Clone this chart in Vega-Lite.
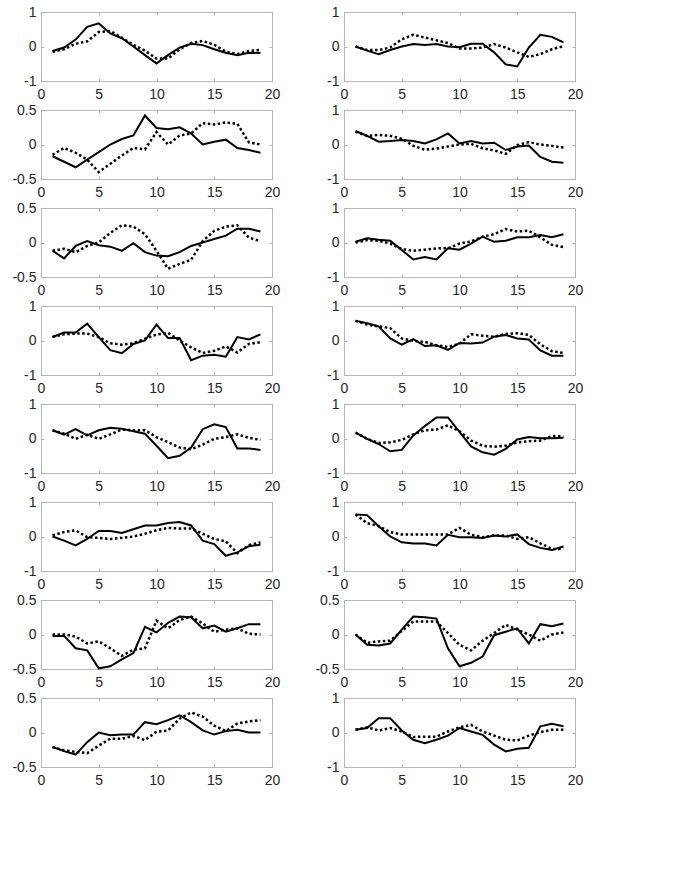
{
"$schema": "https://vega.github.io/schema/vega-lite/v6.json",
"padding": {"left": 11, "top": 4, "right": 5, "bottom": 5},
"background": "white",
"config": {
  "axis": {"grid": false, "domain": false, "tickColor": "#b0b0b0", "tickSize": -3, "tickWidth": 1, "labelFont": "Liberation Sans", "labelFontSize": 14, "labelColor": "#262626", "labelFlush": false, "labelOverlap": false},
  "axisBottom": {"labelPadding": 9},
  "axisLeft": {"labelPadding": 8},
  "axisTop": {"labels": false},
  "axisRight": {"labels": false},
  "view": {"stroke": "#b8b8b8", "strokeWidth": 1}
},
"datasets": {"d": [
{"p":1,"x":1,"s":-0.13,"d":-0.15},{"p":1,"x":2,"s":-0.03,"d":-0.08},{"p":1,"x":3,"s":0.2,"d":0.08},{"p":1,"x":4,"s":0.57,"d":0.15},{"p":1,"x":5,"s":0.67,"d":0.42},{"p":1,"x":6,"s":0.38,"d":0.45},{"p":1,"x":7,"s":0.24,"d":0.25},{"p":1,"x":8,"s":0.0,"d":0.05},{"p":1,"x":9,"s":-0.25,"d":-0.12},{"p":1,"x":10,"s":-0.49,"d":-0.35},{"p":1,"x":11,"s":-0.25,"d":-0.35},{"p":1,"x":12,"s":-0.03,"d":-0.08},{"p":1,"x":13,"s":0.08,"d":0.1},{"p":1,"x":14,"s":0.04,"d":0.16},{"p":1,"x":15,"s":-0.08,"d":0.05},{"p":1,"x":16,"s":-0.18,"d":-0.15},{"p":1,"x":17,"s":-0.25,"d":-0.22},{"p":1,"x":18,"s":-0.18,"d":-0.13},{"p":1,"x":19,"s":-0.19,"d":-0.1},
{"p":2,"x":1,"s":0.0,"d":0.0},{"p":2,"x":2,"s":-0.12,"d":-0.1},{"p":2,"x":3,"s":-0.22,"d":-0.1},{"p":2,"x":4,"s":-0.1,"d":-0.03},{"p":2,"x":5,"s":0.0,"d":0.21},{"p":2,"x":6,"s":0.07,"d":0.34},{"p":2,"x":7,"s":0.04,"d":0.26},{"p":2,"x":8,"s":0.07,"d":0.18},{"p":2,"x":9,"s":0.0,"d":0.1},{"p":2,"x":10,"s":-0.02,"d":-0.06},{"p":2,"x":11,"s":0.08,"d":-0.06},{"p":2,"x":12,"s":0.08,"d":-0.03},{"p":2,"x":13,"s":-0.17,"d":0.07},{"p":2,"x":14,"s":-0.52,"d":-0.03},{"p":2,"x":15,"s":-0.58,"d":-0.17},{"p":2,"x":16,"s":-0.03,"d":-0.3},{"p":2,"x":17,"s":0.34,"d":-0.22},{"p":2,"x":18,"s":0.28,"d":-0.08},{"p":2,"x":19,"s":0.12,"d":0.01},
{"p":3,"x":1,"s":-0.17,"d":-0.15},{"p":3,"x":2,"s":-0.25,"d":-0.05},{"p":3,"x":3,"s":-0.33,"d":-0.12},{"p":3,"x":4,"s":-0.22,"d":-0.22},{"p":3,"x":5,"s":-0.11,"d":-0.4},{"p":3,"x":6,"s":0.0,"d":-0.28},{"p":3,"x":7,"s":0.08,"d":-0.16},{"p":3,"x":8,"s":0.13,"d":-0.05},{"p":3,"x":9,"s":0.42,"d":-0.07},{"p":3,"x":10,"s":0.24,"d":0.18},{"p":3,"x":11,"s":0.22,"d":0.0},{"p":3,"x":12,"s":0.25,"d":0.13},{"p":3,"x":13,"s":0.16,"d":0.16},{"p":3,"x":14,"s":0.0,"d":0.31},{"p":3,"x":15,"s":0.04,"d":0.29},{"p":3,"x":16,"s":0.07,"d":0.32},{"p":3,"x":17,"s":-0.05,"d":0.3},{"p":3,"x":18,"s":-0.08,"d":0.03},{"p":3,"x":19,"s":-0.12,"d":0.0},
{"p":4,"x":1,"s":0.39,"d":0.37},{"p":4,"x":2,"s":0.25,"d":0.25},{"p":4,"x":3,"s":0.08,"d":0.28},{"p":4,"x":4,"s":0.1,"d":0.25},{"p":4,"x":5,"s":0.13,"d":0.17},{"p":4,"x":6,"s":0.1,"d":-0.04},{"p":4,"x":7,"s":0.03,"d":-0.15},{"p":4,"x":8,"s":0.15,"d":-0.12},{"p":4,"x":9,"s":0.32,"d":-0.06},{"p":4,"x":10,"s":0.03,"d":0.0},{"p":4,"x":11,"s":0.1,"d":0.02},{"p":4,"x":12,"s":0.03,"d":-0.11},{"p":4,"x":13,"s":0.05,"d":-0.17},{"p":4,"x":14,"s":-0.16,"d":-0.27},{"p":4,"x":15,"s":-0.06,"d":-0.02},{"p":4,"x":16,"s":-0.03,"d":0.07},{"p":4,"x":17,"s":-0.36,"d":0.0},{"p":4,"x":18,"s":-0.5,"d":-0.04},{"p":4,"x":19,"s":-0.53,"d":-0.09},
{"p":5,"x":1,"s":-0.12,"d":-0.12},{"p":5,"x":2,"s":-0.23,"d":-0.09},{"p":5,"x":3,"s":-0.05,"d":-0.14},{"p":5,"x":4,"s":0.02,"d":-0.05},{"p":5,"x":5,"s":-0.04,"d":0.0},{"p":5,"x":6,"s":-0.06,"d":0.14},{"p":5,"x":7,"s":-0.12,"d":0.25},{"p":5,"x":8,"s":-0.01,"d":0.23},{"p":5,"x":9,"s":-0.14,"d":0.12},{"p":5,"x":10,"s":-0.19,"d":-0.12},{"p":5,"x":11,"s":-0.2,"d":-0.38},{"p":5,"x":12,"s":-0.14,"d":-0.31},{"p":5,"x":13,"s":-0.05,"d":-0.25},{"p":5,"x":14,"s":0.0,"d":0.02},{"p":5,"x":15,"s":0.05,"d":0.17},{"p":5,"x":16,"s":0.1,"d":0.23},{"p":5,"x":17,"s":0.2,"d":0.25},{"p":5,"x":18,"s":0.2,"d":0.07},{"p":5,"x":19,"s":0.16,"d":0.02},
{"p":6,"x":1,"s":0.02,"d":0.0},{"p":6,"x":2,"s":0.12,"d":0.07},{"p":6,"x":3,"s":0.08,"d":0.05},{"p":6,"x":4,"s":0.05,"d":-0.03},{"p":6,"x":5,"s":-0.22,"d":-0.19},{"p":6,"x":6,"s":-0.49,"d":-0.24},{"p":6,"x":7,"s":-0.42,"d":-0.21},{"p":6,"x":8,"s":-0.49,"d":-0.17},{"p":6,"x":9,"s":-0.17,"d":-0.17},{"p":6,"x":10,"s":-0.21,"d":-0.03},{"p":6,"x":11,"s":-0.03,"d":0.03},{"p":6,"x":12,"s":0.17,"d":0.17},{"p":6,"x":13,"s":0.02,"d":0.24},{"p":6,"x":14,"s":0.05,"d":0.39},{"p":6,"x":15,"s":0.15,"d":0.32},{"p":6,"x":16,"s":0.15,"d":0.34},{"p":6,"x":17,"s":0.22,"d":0.15},{"p":6,"x":18,"s":0.15,"d":-0.07},{"p":6,"x":19,"s":0.24,"d":-0.13},
{"p":7,"x":1,"s":0.1,"d":0.1},{"p":7,"x":2,"s":0.23,"d":0.18},{"p":7,"x":3,"s":0.23,"d":0.2},{"p":7,"x":4,"s":0.49,"d":0.2},{"p":7,"x":5,"s":0.1,"d":0.1},{"p":7,"x":6,"s":-0.28,"d":-0.08},{"p":7,"x":7,"s":-0.37,"d":-0.12},{"p":7,"x":8,"s":-0.1,"d":-0.08},{"p":7,"x":9,"s":0.0,"d":0.05},{"p":7,"x":10,"s":0.46,"d":0.17},{"p":7,"x":11,"s":0.07,"d":0.22},{"p":7,"x":12,"s":0.07,"d":0.0},{"p":7,"x":13,"s":-0.57,"d":-0.2},{"p":7,"x":14,"s":-0.44,"d":-0.36},{"p":7,"x":15,"s":-0.41,"d":-0.3},{"p":7,"x":16,"s":-0.47,"d":-0.17},{"p":7,"x":17,"s":0.1,"d":-0.35},{"p":7,"x":18,"s":0.03,"d":-0.1},{"p":7,"x":19,"s":0.18,"d":-0.05},
{"p":8,"x":1,"s":0.57,"d":0.57},{"p":8,"x":2,"s":0.5,"d":0.46},{"p":8,"x":3,"s":0.41,"d":0.41},{"p":8,"x":4,"s":0.06,"d":0.36},{"p":8,"x":5,"s":-0.12,"d":0.06},{"p":8,"x":6,"s":0.04,"d":-0.01},{"p":8,"x":7,"s":-0.16,"d":-0.04},{"p":8,"x":8,"s":-0.14,"d":-0.14},{"p":8,"x":9,"s":-0.27,"d":-0.19},{"p":8,"x":10,"s":-0.07,"d":-0.09},{"p":8,"x":11,"s":-0.09,"d":0.18},{"p":8,"x":12,"s":-0.06,"d":0.14},{"p":8,"x":13,"s":0.11,"d":0.11},{"p":8,"x":14,"s":0.16,"d":0.19},{"p":8,"x":15,"s":0.06,"d":0.21},{"p":8,"x":16,"s":0.03,"d":0.16},{"p":8,"x":17,"s":-0.29,"d":-0.11},{"p":8,"x":18,"s":-0.44,"d":-0.31},{"p":8,"x":19,"s":-0.44,"d":-0.36},
{"p":9,"x":1,"s":0.24,"d":0.24},{"p":9,"x":2,"s":0.11,"d":0.14},{"p":9,"x":3,"s":0.27,"d":-0.01},{"p":9,"x":4,"s":0.09,"d":0.11},{"p":9,"x":5,"s":0.24,"d":-0.01},{"p":9,"x":6,"s":0.31,"d":0.12},{"p":9,"x":7,"s":0.28,"d":0.26},{"p":9,"x":8,"s":0.21,"d":0.24},{"p":9,"x":9,"s":0.14,"d":0.24},{"p":9,"x":10,"s":-0.21,"d":0.04},{"p":9,"x":11,"s":-0.57,"d":-0.11},{"p":9,"x":12,"s":-0.5,"d":-0.26},{"p":9,"x":13,"s":-0.26,"d":-0.31},{"p":9,"x":14,"s":0.27,"d":-0.18},{"p":9,"x":15,"s":0.41,"d":-0.01},{"p":9,"x":16,"s":0.33,"d":0.04},{"p":9,"x":17,"s":-0.29,"d":0.12},{"p":9,"x":18,"s":-0.29,"d":0.02},{"p":9,"x":19,"s":-0.33,"d":-0.04},
{"p":10,"x":1,"s":0.17,"d":0.17},{"p":10,"x":2,"s":-0.01,"d":-0.01},{"p":10,"x":3,"s":-0.16,"d":-0.13},{"p":10,"x":4,"s":-0.37,"d":-0.11},{"p":10,"x":5,"s":-0.33,"d":-0.04},{"p":10,"x":6,"s":0.09,"d":0.12},{"p":10,"x":7,"s":0.36,"d":0.24},{"p":10,"x":8,"s":0.61,"d":0.26},{"p":10,"x":9,"s":0.61,"d":0.38},{"p":10,"x":10,"s":0.19,"d":0.21},{"p":10,"x":11,"s":-0.23,"d":-0.06},{"p":10,"x":12,"s":-0.4,"d":-0.21},{"p":10,"x":13,"s":-0.47,"d":-0.24},{"p":10,"x":14,"s":-0.3,"d":-0.21},{"p":10,"x":15,"s":-0.03,"d":-0.11},{"p":10,"x":16,"s":0.04,"d":-0.08},{"p":10,"x":17,"s":0.01,"d":-0.06},{"p":10,"x":18,"s":0.01,"d":0.07},{"p":10,"x":19,"s":0.02,"d":0.06},
{"p":11,"x":1,"s":0.0,"d":0.03},{"p":11,"x":2,"s":-0.12,"d":0.13},{"p":11,"x":3,"s":-0.26,"d":0.18},{"p":11,"x":4,"s":-0.07,"d":-0.02},{"p":11,"x":5,"s":0.16,"d":-0.04},{"p":11,"x":6,"s":0.16,"d":-0.07},{"p":11,"x":7,"s":0.1,"d":-0.04},{"p":11,"x":8,"s":0.21,"d":0.0},{"p":11,"x":9,"s":0.32,"d":0.08},{"p":11,"x":10,"s":0.32,"d":0.18},{"p":11,"x":11,"s":0.39,"d":0.25},{"p":11,"x":12,"s":0.42,"d":0.23},{"p":11,"x":13,"s":0.32,"d":0.23},{"p":11,"x":14,"s":-0.12,"d":0.08},{"p":11,"x":15,"s":-0.22,"d":-0.07},{"p":11,"x":16,"s":-0.56,"d":-0.14},{"p":11,"x":17,"s":-0.46,"d":-0.48},{"p":11,"x":18,"s":-0.28,"d":-0.25},{"p":11,"x":19,"s":-0.24,"d":-0.17},
{"p":12,"x":1,"s":0.64,"d":0.64},{"p":12,"x":2,"s":0.62,"d":0.39},{"p":12,"x":3,"s":0.3,"d":0.3},{"p":12,"x":4,"s":0.0,"d":0.13},{"p":12,"x":5,"s":-0.17,"d":0.06},{"p":12,"x":6,"s":-0.2,"d":0.06},{"p":12,"x":7,"s":-0.2,"d":0.06},{"p":12,"x":8,"s":-0.26,"d":0.06},{"p":12,"x":9,"s":0.05,"d":0.06},{"p":12,"x":10,"s":-0.02,"d":0.25},{"p":12,"x":11,"s":-0.02,"d":0.05},{"p":12,"x":12,"s":-0.04,"d":-0.02},{"p":12,"x":13,"s":0.03,"d":0.03},{"p":12,"x":14,"s":0.0,"d":0.03},{"p":12,"x":15,"s":0.06,"d":-0.07},{"p":12,"x":16,"s":-0.22,"d":-0.02},{"p":12,"x":17,"s":-0.33,"d":-0.2},{"p":12,"x":18,"s":-0.39,"d":-0.36},{"p":12,"x":19,"s":-0.29,"d":-0.36},
{"p":13,"x":1,"s":-0.02,"d":0.0},{"p":13,"x":2,"s":-0.02,"d":0.0},{"p":13,"x":3,"s":-0.2,"d":-0.03},{"p":13,"x":4,"s":-0.23,"d":-0.13},{"p":13,"x":5,"s":-0.49,"d":-0.1},{"p":13,"x":6,"s":-0.46,"d":-0.2},{"p":13,"x":7,"s":-0.36,"d":-0.31},{"p":13,"x":8,"s":-0.27,"d":-0.22},{"p":13,"x":9,"s":0.11,"d":-0.2},{"p":13,"x":10,"s":0.03,"d":0.2},{"p":13,"x":11,"s":0.17,"d":0.09},{"p":13,"x":12,"s":0.26,"d":0.21},{"p":13,"x":13,"s":0.25,"d":0.26},{"p":13,"x":14,"s":0.09,"d":0.16},{"p":13,"x":15,"s":0.13,"d":0.04},{"p":13,"x":16,"s":0.04,"d":0.07},{"p":13,"x":17,"s":0.09,"d":0.09},{"p":13,"x":18,"s":0.15,"d":0.01},{"p":13,"x":19,"s":0.15,"d":0.0},
{"p":14,"x":1,"s":0.0,"d":0.0},{"p":14,"x":2,"s":-0.15,"d":-0.12},{"p":14,"x":3,"s":-0.16,"d":-0.1},{"p":14,"x":4,"s":-0.13,"d":-0.09},{"p":14,"x":5,"s":0.07,"d":0.05},{"p":14,"x":6,"s":0.26,"d":0.19},{"p":14,"x":7,"s":0.25,"d":0.19},{"p":14,"x":8,"s":0.23,"d":0.19},{"p":14,"x":9,"s":-0.2,"d":0.02},{"p":14,"x":10,"s":-0.46,"d":-0.15},{"p":14,"x":11,"s":-0.41,"d":-0.23},{"p":14,"x":12,"s":-0.32,"d":-0.09},{"p":14,"x":13,"s":-0.01,"d":0.02},{"p":14,"x":14,"s":0.04,"d":0.14},{"p":14,"x":15,"s":0.09,"d":0.07},{"p":14,"x":16,"s":-0.13,"d":0.0},{"p":14,"x":17,"s":0.15,"d":-0.09},{"p":14,"x":18,"s":0.12,"d":0.0},{"p":14,"x":19,"s":0.16,"d":0.03},
{"p":15,"x":1,"s":-0.21,"d":-0.21},{"p":15,"x":2,"s":-0.27,"d":-0.26},{"p":15,"x":3,"s":-0.32,"d":-0.28},{"p":15,"x":4,"s":-0.14,"d":-0.3},{"p":15,"x":5,"s":0.0,"d":-0.19},{"p":15,"x":6,"s":-0.04,"d":-0.09},{"p":15,"x":7,"s":-0.03,"d":-0.09},{"p":15,"x":8,"s":-0.03,"d":-0.05},{"p":15,"x":9,"s":0.15,"d":-0.11},{"p":15,"x":10,"s":0.12,"d":0.01},{"p":15,"x":11,"s":0.18,"d":0.03},{"p":15,"x":12,"s":0.25,"d":0.2},{"p":15,"x":13,"s":0.15,"d":0.29},{"p":15,"x":14,"s":0.03,"d":0.23},{"p":15,"x":15,"s":-0.03,"d":0.1},{"p":15,"x":16,"s":0.02,"d":0.02},{"p":15,"x":17,"s":0.04,"d":0.13},{"p":15,"x":18,"s":0.0,"d":0.16},{"p":15,"x":19,"s":0.0,"d":0.18},
{"p":16,"x":1,"s":0.08,"d":0.08},{"p":16,"x":2,"s":0.13,"d":0.15},{"p":16,"x":3,"s":0.41,"d":0.06},{"p":16,"x":4,"s":0.41,"d":0.13},{"p":16,"x":5,"s":0.06,"d":0.03},{"p":16,"x":6,"s":-0.21,"d":-0.13},{"p":16,"x":7,"s":-0.31,"d":-0.12},{"p":16,"x":8,"s":-0.21,"d":-0.12},{"p":16,"x":9,"s":-0.09,"d":0.03},{"p":16,"x":10,"s":0.13,"d":0.15},{"p":16,"x":11,"s":0.03,"d":0.22},{"p":16,"x":12,"s":-0.07,"d":0.03},{"p":16,"x":13,"s":-0.35,"d":-0.09},{"p":16,"x":14,"s":-0.55,"d":-0.21},{"p":16,"x":15,"s":-0.47,"d":-0.23},{"p":16,"x":16,"s":-0.44,"d":-0.09},{"p":16,"x":17,"s":0.18,"d":0.01},{"p":16,"x":18,"s":0.25,"d":0.08},{"p":16,"x":19,"s":0.18,"d":0.08}
]},
"data": {"name": "d"},
"columns": 2,
"bounds": "flush",
"spacing": {"row": 29, "column": 72},
"concat": [
{"width":231,"height":69,"transform":[{"filter":"datum.p==1"}],"layer":[
 {"mark":{"type":"line","color":"#000","strokeWidth":2},"encoding":{"x":{"field":"x","type":"quantitative","title":null,"scale":{"domain":[0,20]},"axis":{"values":[0,5,10,15,20]}},"y":{"field":"s","type":"quantitative","title":null,"scale":{"domain":[-1,1]},"axis":{"values":[-1,0,1],"labelExpr":"''+datum.value"}}}},
 {"mark":{"type":"line","color":"#000","strokeWidth":2.5,"strokeDash":[2.5,2.5]},"encoding":{"x":{"field":"x","type":"quantitative","title":null,"scale":{"domain":[0,20]},"axis":{"orient":"top","values":[0,5,10,15,20]}},"y":{"field":"d","type":"quantitative","title":null,"scale":{"domain":[-1,1]},"axis":{"orient":"right","values":[-1,0,1]}}}}
],"resolve":{"axis":{"x":"independent","y":"independent"}}},
{"width":231,"height":69,"transform":[{"filter":"datum.p==2"}],"layer":[
 {"mark":{"type":"line","color":"#000","strokeWidth":2},"encoding":{"x":{"field":"x","type":"quantitative","title":null,"scale":{"domain":[0,20]},"axis":{"values":[0,5,10,15,20]}},"y":{"field":"s","type":"quantitative","title":null,"scale":{"domain":[-1,1]},"axis":{"values":[-1,0,1],"labelExpr":"''+datum.value"}}}},
 {"mark":{"type":"line","color":"#000","strokeWidth":2.5,"strokeDash":[2.5,2.5]},"encoding":{"x":{"field":"x","type":"quantitative","title":null,"scale":{"domain":[0,20]},"axis":{"orient":"top","values":[0,5,10,15,20]}},"y":{"field":"d","type":"quantitative","title":null,"scale":{"domain":[-1,1]},"axis":{"orient":"right","values":[-1,0,1]}}}}
],"resolve":{"axis":{"x":"independent","y":"independent"}}},
{"width":231,"height":69,"transform":[{"filter":"datum.p==3"}],"layer":[
 {"mark":{"type":"line","color":"#000","strokeWidth":2},"encoding":{"x":{"field":"x","type":"quantitative","title":null,"scale":{"domain":[0,20]},"axis":{"values":[0,5,10,15,20]}},"y":{"field":"s","type":"quantitative","title":null,"scale":{"domain":[-0.5,0.5]},"axis":{"values":[-0.5,0,0.5],"labelExpr":"''+datum.value"}}}},
 {"mark":{"type":"line","color":"#000","strokeWidth":2.5,"strokeDash":[2.5,2.5]},"encoding":{"x":{"field":"x","type":"quantitative","title":null,"scale":{"domain":[0,20]},"axis":{"orient":"top","values":[0,5,10,15,20]}},"y":{"field":"d","type":"quantitative","title":null,"scale":{"domain":[-0.5,0.5]},"axis":{"orient":"right","values":[-0.5,0,0.5]}}}}
],"resolve":{"axis":{"x":"independent","y":"independent"}}},
{"width":231,"height":69,"transform":[{"filter":"datum.p==4"}],"layer":[
 {"mark":{"type":"line","color":"#000","strokeWidth":2},"encoding":{"x":{"field":"x","type":"quantitative","title":null,"scale":{"domain":[0,20]},"axis":{"values":[0,5,10,15,20]}},"y":{"field":"s","type":"quantitative","title":null,"scale":{"domain":[-1,1]},"axis":{"values":[-1,0,1],"labelExpr":"''+datum.value"}}}},
 {"mark":{"type":"line","color":"#000","strokeWidth":2.5,"strokeDash":[2.5,2.5]},"encoding":{"x":{"field":"x","type":"quantitative","title":null,"scale":{"domain":[0,20]},"axis":{"orient":"top","values":[0,5,10,15,20]}},"y":{"field":"d","type":"quantitative","title":null,"scale":{"domain":[-1,1]},"axis":{"orient":"right","values":[-1,0,1]}}}}
],"resolve":{"axis":{"x":"independent","y":"independent"}}},
{"width":231,"height":69,"transform":[{"filter":"datum.p==5"}],"layer":[
 {"mark":{"type":"line","color":"#000","strokeWidth":2},"encoding":{"x":{"field":"x","type":"quantitative","title":null,"scale":{"domain":[0,20]},"axis":{"values":[0,5,10,15,20]}},"y":{"field":"s","type":"quantitative","title":null,"scale":{"domain":[-0.5,0.5]},"axis":{"values":[-0.5,0,0.5],"labelExpr":"''+datum.value"}}}},
 {"mark":{"type":"line","color":"#000","strokeWidth":2.5,"strokeDash":[2.5,2.5]},"encoding":{"x":{"field":"x","type":"quantitative","title":null,"scale":{"domain":[0,20]},"axis":{"orient":"top","values":[0,5,10,15,20]}},"y":{"field":"d","type":"quantitative","title":null,"scale":{"domain":[-0.5,0.5]},"axis":{"orient":"right","values":[-0.5,0,0.5]}}}}
],"resolve":{"axis":{"x":"independent","y":"independent"}}},
{"width":231,"height":69,"transform":[{"filter":"datum.p==6"}],"layer":[
 {"mark":{"type":"line","color":"#000","strokeWidth":2},"encoding":{"x":{"field":"x","type":"quantitative","title":null,"scale":{"domain":[0,20]},"axis":{"values":[0,5,10,15,20]}},"y":{"field":"s","type":"quantitative","title":null,"scale":{"domain":[-1,1]},"axis":{"values":[-1,0,1],"labelExpr":"''+datum.value"}}}},
 {"mark":{"type":"line","color":"#000","strokeWidth":2.5,"strokeDash":[2.5,2.5]},"encoding":{"x":{"field":"x","type":"quantitative","title":null,"scale":{"domain":[0,20]},"axis":{"orient":"top","values":[0,5,10,15,20]}},"y":{"field":"d","type":"quantitative","title":null,"scale":{"domain":[-1,1]},"axis":{"orient":"right","values":[-1,0,1]}}}}
],"resolve":{"axis":{"x":"independent","y":"independent"}}},
{"width":231,"height":69,"transform":[{"filter":"datum.p==7"}],"layer":[
 {"mark":{"type":"line","color":"#000","strokeWidth":2},"encoding":{"x":{"field":"x","type":"quantitative","title":null,"scale":{"domain":[0,20]},"axis":{"values":[0,5,10,15,20]}},"y":{"field":"s","type":"quantitative","title":null,"scale":{"domain":[-1,1]},"axis":{"values":[-1,0,1],"labelExpr":"''+datum.value"}}}},
 {"mark":{"type":"line","color":"#000","strokeWidth":2.5,"strokeDash":[2.5,2.5]},"encoding":{"x":{"field":"x","type":"quantitative","title":null,"scale":{"domain":[0,20]},"axis":{"orient":"top","values":[0,5,10,15,20]}},"y":{"field":"d","type":"quantitative","title":null,"scale":{"domain":[-1,1]},"axis":{"orient":"right","values":[-1,0,1]}}}}
],"resolve":{"axis":{"x":"independent","y":"independent"}}},
{"width":231,"height":69,"transform":[{"filter":"datum.p==8"}],"layer":[
 {"mark":{"type":"line","color":"#000","strokeWidth":2},"encoding":{"x":{"field":"x","type":"quantitative","title":null,"scale":{"domain":[0,20]},"axis":{"values":[0,5,10,15,20]}},"y":{"field":"s","type":"quantitative","title":null,"scale":{"domain":[-1,1]},"axis":{"values":[-1,0,1],"labelExpr":"''+datum.value"}}}},
 {"mark":{"type":"line","color":"#000","strokeWidth":2.5,"strokeDash":[2.5,2.5]},"encoding":{"x":{"field":"x","type":"quantitative","title":null,"scale":{"domain":[0,20]},"axis":{"orient":"top","values":[0,5,10,15,20]}},"y":{"field":"d","type":"quantitative","title":null,"scale":{"domain":[-1,1]},"axis":{"orient":"right","values":[-1,0,1]}}}}
],"resolve":{"axis":{"x":"independent","y":"independent"}}},
{"width":231,"height":69,"transform":[{"filter":"datum.p==9"}],"layer":[
 {"mark":{"type":"line","color":"#000","strokeWidth":2},"encoding":{"x":{"field":"x","type":"quantitative","title":null,"scale":{"domain":[0,20]},"axis":{"values":[0,5,10,15,20]}},"y":{"field":"s","type":"quantitative","title":null,"scale":{"domain":[-1,1]},"axis":{"values":[-1,0,1],"labelExpr":"''+datum.value"}}}},
 {"mark":{"type":"line","color":"#000","strokeWidth":2.5,"strokeDash":[2.5,2.5]},"encoding":{"x":{"field":"x","type":"quantitative","title":null,"scale":{"domain":[0,20]},"axis":{"orient":"top","values":[0,5,10,15,20]}},"y":{"field":"d","type":"quantitative","title":null,"scale":{"domain":[-1,1]},"axis":{"orient":"right","values":[-1,0,1]}}}}
],"resolve":{"axis":{"x":"independent","y":"independent"}}},
{"width":231,"height":69,"transform":[{"filter":"datum.p==10"}],"layer":[
 {"mark":{"type":"line","color":"#000","strokeWidth":2},"encoding":{"x":{"field":"x","type":"quantitative","title":null,"scale":{"domain":[0,20]},"axis":{"values":[0,5,10,15,20]}},"y":{"field":"s","type":"quantitative","title":null,"scale":{"domain":[-1,1]},"axis":{"values":[-1,0,1],"labelExpr":"''+datum.value"}}}},
 {"mark":{"type":"line","color":"#000","strokeWidth":2.5,"strokeDash":[2.5,2.5]},"encoding":{"x":{"field":"x","type":"quantitative","title":null,"scale":{"domain":[0,20]},"axis":{"orient":"top","values":[0,5,10,15,20]}},"y":{"field":"d","type":"quantitative","title":null,"scale":{"domain":[-1,1]},"axis":{"orient":"right","values":[-1,0,1]}}}}
],"resolve":{"axis":{"x":"independent","y":"independent"}}},
{"width":231,"height":69,"transform":[{"filter":"datum.p==11"}],"layer":[
 {"mark":{"type":"line","color":"#000","strokeWidth":2},"encoding":{"x":{"field":"x","type":"quantitative","title":null,"scale":{"domain":[0,20]},"axis":{"values":[0,5,10,15,20]}},"y":{"field":"s","type":"quantitative","title":null,"scale":{"domain":[-1,1]},"axis":{"values":[-1,0,1],"labelExpr":"''+datum.value"}}}},
 {"mark":{"type":"line","color":"#000","strokeWidth":2.5,"strokeDash":[2.5,2.5]},"encoding":{"x":{"field":"x","type":"quantitative","title":null,"scale":{"domain":[0,20]},"axis":{"orient":"top","values":[0,5,10,15,20]}},"y":{"field":"d","type":"quantitative","title":null,"scale":{"domain":[-1,1]},"axis":{"orient":"right","values":[-1,0,1]}}}}
],"resolve":{"axis":{"x":"independent","y":"independent"}}},
{"width":231,"height":69,"transform":[{"filter":"datum.p==12"}],"layer":[
 {"mark":{"type":"line","color":"#000","strokeWidth":2},"encoding":{"x":{"field":"x","type":"quantitative","title":null,"scale":{"domain":[0,20]},"axis":{"values":[0,5,10,15,20]}},"y":{"field":"s","type":"quantitative","title":null,"scale":{"domain":[-1,1]},"axis":{"values":[-1,0,1],"labelExpr":"''+datum.value"}}}},
 {"mark":{"type":"line","color":"#000","strokeWidth":2.5,"strokeDash":[2.5,2.5]},"encoding":{"x":{"field":"x","type":"quantitative","title":null,"scale":{"domain":[0,20]},"axis":{"orient":"top","values":[0,5,10,15,20]}},"y":{"field":"d","type":"quantitative","title":null,"scale":{"domain":[-1,1]},"axis":{"orient":"right","values":[-1,0,1]}}}}
],"resolve":{"axis":{"x":"independent","y":"independent"}}},
{"width":231,"height":69,"transform":[{"filter":"datum.p==13"}],"layer":[
 {"mark":{"type":"line","color":"#000","strokeWidth":2},"encoding":{"x":{"field":"x","type":"quantitative","title":null,"scale":{"domain":[0,20]},"axis":{"values":[0,5,10,15,20]}},"y":{"field":"s","type":"quantitative","title":null,"scale":{"domain":[-0.5,0.5]},"axis":{"values":[-0.5,0,0.5],"labelExpr":"''+datum.value"}}}},
 {"mark":{"type":"line","color":"#000","strokeWidth":2.5,"strokeDash":[2.5,2.5]},"encoding":{"x":{"field":"x","type":"quantitative","title":null,"scale":{"domain":[0,20]},"axis":{"orient":"top","values":[0,5,10,15,20]}},"y":{"field":"d","type":"quantitative","title":null,"scale":{"domain":[-0.5,0.5]},"axis":{"orient":"right","values":[-0.5,0,0.5]}}}}
],"resolve":{"axis":{"x":"independent","y":"independent"}}},
{"width":231,"height":69,"transform":[{"filter":"datum.p==14"}],"layer":[
 {"mark":{"type":"line","color":"#000","strokeWidth":2},"encoding":{"x":{"field":"x","type":"quantitative","title":null,"scale":{"domain":[0,20]},"axis":{"values":[0,5,10,15,20]}},"y":{"field":"s","type":"quantitative","title":null,"scale":{"domain":[-0.5,0.5]},"axis":{"values":[-0.5,0,0.5],"labelExpr":"''+datum.value"}}}},
 {"mark":{"type":"line","color":"#000","strokeWidth":2.5,"strokeDash":[2.5,2.5]},"encoding":{"x":{"field":"x","type":"quantitative","title":null,"scale":{"domain":[0,20]},"axis":{"orient":"top","values":[0,5,10,15,20]}},"y":{"field":"d","type":"quantitative","title":null,"scale":{"domain":[-0.5,0.5]},"axis":{"orient":"right","values":[-0.5,0,0.5]}}}}
],"resolve":{"axis":{"x":"independent","y":"independent"}}},
{"width":231,"height":69,"transform":[{"filter":"datum.p==15"}],"layer":[
 {"mark":{"type":"line","color":"#000","strokeWidth":2},"encoding":{"x":{"field":"x","type":"quantitative","title":null,"scale":{"domain":[0,20]},"axis":{"values":[0,5,10,15,20]}},"y":{"field":"s","type":"quantitative","title":null,"scale":{"domain":[-0.5,0.5]},"axis":{"values":[-0.5,0,0.5],"labelExpr":"''+datum.value"}}}},
 {"mark":{"type":"line","color":"#000","strokeWidth":2.5,"strokeDash":[2.5,2.5]},"encoding":{"x":{"field":"x","type":"quantitative","title":null,"scale":{"domain":[0,20]},"axis":{"orient":"top","values":[0,5,10,15,20]}},"y":{"field":"d","type":"quantitative","title":null,"scale":{"domain":[-0.5,0.5]},"axis":{"orient":"right","values":[-0.5,0,0.5]}}}}
],"resolve":{"axis":{"x":"independent","y":"independent"}}},
{"width":231,"height":69,"transform":[{"filter":"datum.p==16"}],"layer":[
 {"mark":{"type":"line","color":"#000","strokeWidth":2},"encoding":{"x":{"field":"x","type":"quantitative","title":null,"scale":{"domain":[0,20]},"axis":{"values":[0,5,10,15,20]}},"y":{"field":"s","type":"quantitative","title":null,"scale":{"domain":[-1,1]},"axis":{"values":[-1,0,1],"labelExpr":"''+datum.value"}}}},
 {"mark":{"type":"line","color":"#000","strokeWidth":2.5,"strokeDash":[2.5,2.5]},"encoding":{"x":{"field":"x","type":"quantitative","title":null,"scale":{"domain":[0,20]},"axis":{"orient":"top","values":[0,5,10,15,20]}},"y":{"field":"d","type":"quantitative","title":null,"scale":{"domain":[-1,1]},"axis":{"orient":"right","values":[-1,0,1]}}}}
],"resolve":{"axis":{"x":"independent","y":"independent"}}}
]
}
